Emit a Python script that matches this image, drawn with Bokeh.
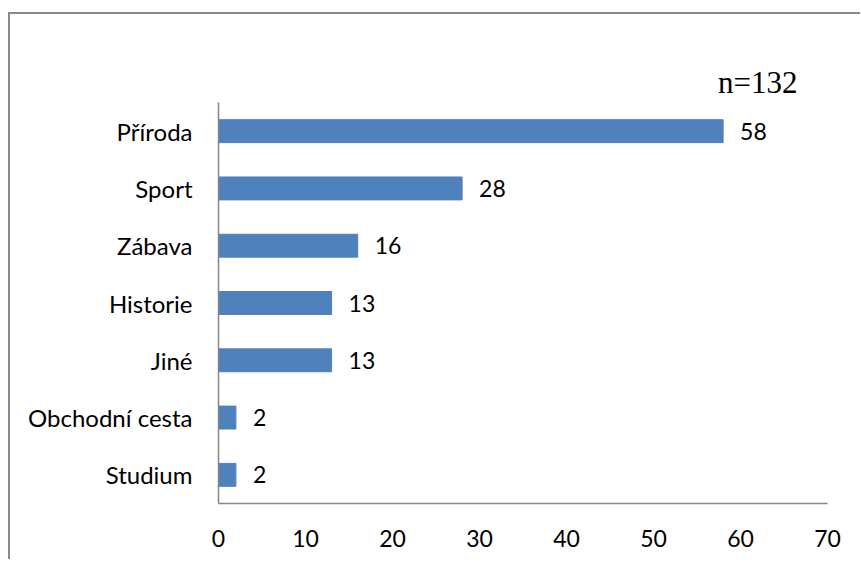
from bokeh.plotting import figure
from bokeh.models import ColumnDataSource, LabelSet, Title, FactorRange, Range1d, FixedTicker
from bokeh.core.properties import value
from bokeh.embed import file_html
from bokeh.resources import INLINE

categories = ["Příroda", "Sport", "Zábava", "Historie", "Jiné", "Obchodní cesta", "Studium"]
values = [58, 28, 16, 13, 13, 2, 2]
x_ticks = [0, 10, 20, 30, 40, 50, 60, 70]
note = "n=132"

FONT = "Lato"
AXIS_COLOR = "#868686"
BAR_COLOR = "#4F81BD"

source = ColumnDataSource(dict(cat=categories, val=values, lbl=[str(v) for v in values]))

p = figure(
    frame_width=609, frame_height=401,
    y_range=FactorRange(*reversed(categories), range_padding=0),
    x_range=Range1d(0, 70),
    output_backend="svg", toolbar_location=None,
    min_border_left=208, min_border_right=33, min_border_top=88, min_border_bottom=56,
)
p.styles = {"border-top": "2px solid #8a8a8a", "border-left": "2px solid #8a8a8a",
            "margin-top": "12px", "margin-left": "8px"}
p.outline_line_color = None
p.xgrid.grid_line_color = None
p.ygrid.grid_line_color = None

p.hbar(y="cat", right="val", left=0, height=0.4, source=source,
       fill_color=BAR_COLOR, line_color=BAR_COLOR)

labels = LabelSet(x="val", y="cat", text="lbl", source=source, x_offset=17,
                  text_baseline="middle", text_font=value(FONT), text_font_size=value("23px"),
                  text_color=value("black"))
p.add_layout(labels)

p.add_layout(Title(text=note, align="right", offset=30, standoff=6,
                   text_font="Liberation Serif", text_font_size="31px",
                   text_font_style="normal", text_color="black"), "above")

for ax in (p.xaxis[0], p.yaxis[0]):
    ax.axis_line_color = AXIS_COLOR
    ax.axis_line_width = 1.5
    ax.major_tick_line_color = None
    ax.minor_tick_line_color = None
    ax.major_label_text_font = FONT
    ax.major_label_text_color = "black"

p.xaxis[0].major_label_text_font_size = "23px"
p.yaxis[0].major_label_text_font_size = "24px"
p.xaxis[0].ticker = FixedTicker(ticks=x_ticks)
p.xaxis[0].major_label_standoff = 20
p.yaxis[0].major_label_standoff = 20

open("out.html", "w").write(file_html(p, INLINE))
